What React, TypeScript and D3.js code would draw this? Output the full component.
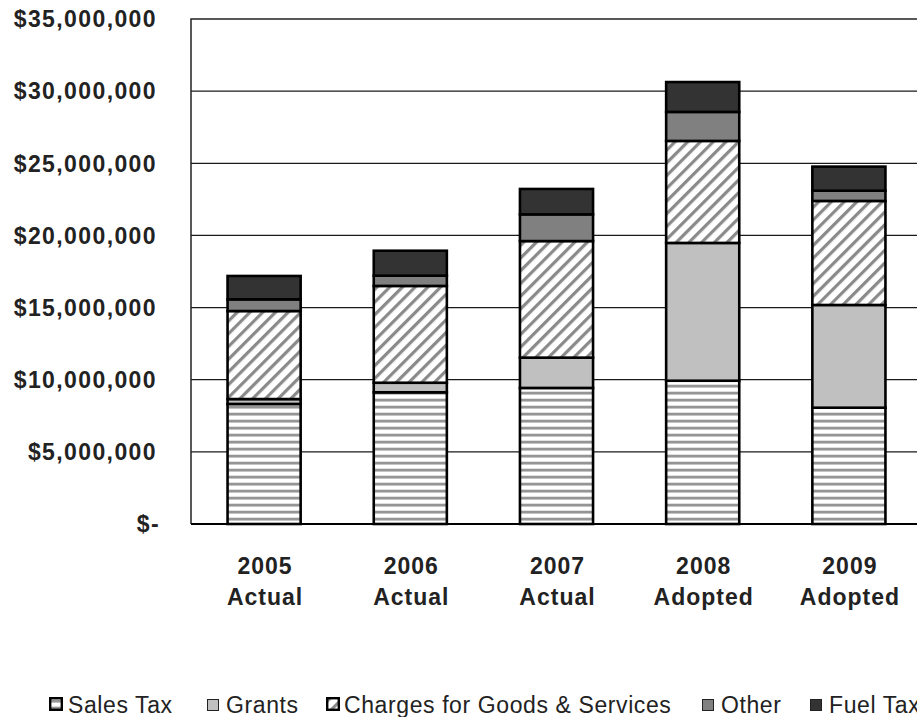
import React, { useEffect, useRef } from "react";
import * as d3 from "d3";

const categories = ["2005 Actual", "2006 Actual", "2007 Actual", "2008 Adopted", "2009 Adopted"];
const categoryLines = [["2005", "Actual"], ["2006", "Actual"], ["2007", "Actual"], ["2008", "Adopted"], ["2009", "Adopted"]];
const seriesNames = ["Sales Tax", "Grants", "Charges for Goods & Services", "Other", "Fuel Tax"];
const salesTax = [8.32e6, 9.13e6, 9.43e6, 9.93e6, 8.06e6];
const grants = [0.34e6, 0.66e6, 2.1e6, 9.55e6, 7.12e6];
const charges = [6.1e6, 6.71e6, 8.08e6, 7.07e6, 7.21e6];
const other = [0.81e6, 0.71e6, 1.85e6, 2.01e6, 0.71e6];
const fuelTax = [1.62e6, 1.73e6, 1.76e6, 2.07e6, 1.67e6];
const yTicks = [0, 5e6, 10e6, 15e6, 20e6, 25e6, 30e6, 35e6];
const yTickLabels = ["$-", "$5,000,000", "$10,000,000", "$15,000,000", "$20,000,000", "$25,000,000", "$30,000,000", "$35,000,000"];

const W = 917, H = 717;
const FONT = "'Liberation Sans', Arial, sans-serif";

export default function App() {
  const ref = useRef<SVGSVGElement>(null);
  useEffect(() => {
    document.body.style.margin = "0";
    const svg = d3.select(ref.current!);
    svg.selectAll("*").remove();

    const fills = ["url(#hstripe)", "#c0c0c0", "url(#diag)", "#808080", "#333333"];
    const defs = svg.append("defs");
    const hs = defs.append("pattern").attr("id", "hstripe").attr("patternUnits", "userSpaceOnUse").attr("width", 8).attr("height", 7);
    hs.append("rect").attr("width", 8).attr("height", 7).attr("fill", "#fff");
    hs.append("rect").attr("y", 0).attr("width", 8).attr("height", 2).attr("fill", "#959595");
    hs.append("rect").attr("y", 2).attr("width", 8).attr("height", 1).attr("fill", "#c4c4c4");
    hs.append("rect").attr("y", 6).attr("width", 8).attr("height", 1).attr("fill", "#e0e0e0");
    const dg = defs.append("pattern").attr("id", "diag").attr("patternUnits", "userSpaceOnUse").attr("width", 9).attr("height", 9).attr("patternTransform", "rotate(45)");
    dg.append("rect").attr("width", 9).attr("height", 9).attr("fill", "#fff");
    dg.append("rect").attr("x", 0).attr("width", 3.2).attr("height", 9).attr("fill", "#8a8a8a");

    const x = d3.scaleBand<string>().domain(categories).range([191, 922]).paddingInner(0.5).paddingOuter(0.25);
    const y = d3.scaleLinear().domain([0, 35e6]).range([524, 19]);

    const table = categories.map((c, i) => ({
      cat: c,
      "Sales Tax": salesTax[i],
      Grants: grants[i],
      "Charges for Goods & Services": charges[i],
      Other: other[i],
      "Fuel Tax": fuelTax[i],
    }));
    const stacked = d3.stack<any>().keys(seriesNames)(table);

    // gridlines
    svg.append("g").selectAll("line").data(yTicks.slice(1, -1)).join("line")
      .attr("x1", 191).attr("x2", 922).attr("y1", (d) => y(d)).attr("y2", (d) => y(d))
      .attr("stroke", "#1a1a1a").attr("stroke-width", 1.2);
    // plot border (top & left)
    svg.append("path").attr("d", `M191,${y(0)}V${y(35e6)}H922`).attr("fill", "none").attr("stroke", "#222").attr("stroke-width", 1.5);

    // bars
    stacked.forEach((s, si) => {
      svg.append("g").selectAll("rect").data(s).join("rect")
        .attr("x", (d: any) => x(d.data.cat)!)
        .attr("width", x.bandwidth())
        .attr("y", (d: any) => y(d[1]))
        .attr("height", (d: any) => y(d[0]) - y(d[1]))
        .attr("fill", fills[si])
        .attr("stroke", "#000").attr("stroke-width", 2.6);
    });

    // baseline axis
    svg.append("line").attr("x1", 191).attr("x2", 922).attr("y1", y(0)).attr("y2", y(0)).attr("stroke", "#000").attr("stroke-width", 2);

    // y labels
    svg.append("g").selectAll("text").data(yTicks).join("text")
      .attr("x", (d) => (d === 0 ? 160 : 157)).attr("y", (d) => y(d)).attr("dy", "0.36em")
      .attr("text-anchor", "end").attr("font-family", FONT).attr("font-weight", "bold").attr("font-size", 23)
      .attr("letter-spacing", 1.4).attr("fill", "#222")
      .text((d, i) => yTickLabels[i]);

    // x labels
    const xl = svg.append("g").selectAll("text").data(categories).join("text")
      .attr("text-anchor", "middle").attr("font-family", FONT).attr("font-weight", "bold").attr("font-size", 23)
      .attr("letter-spacing", 1).attr("fill", "#222");
    xl.each(function (c, i) {
      const t = d3.select(this);
      const cx = x(c)! + x.bandwidth() / 2 + 1;
      categoryLines[i].forEach((ln, li) => {
        t.append("tspan").attr("x", cx).attr("y", 574 + li * 31).text(ln);
      });
    });

    // legend
    const legendX = [49, 207, 326, 702, 810];
    const thick = [true, false, true, false, false];
    const lg = svg.append("g").selectAll("g").data(seriesNames).join("g")
      .attr("transform", (d, i) => `translate(${legendX[i]},0)`);
    lg.append("rect").attr("x", (d, i) => (thick[i] ? 1.2 : 0.5)).attr("y", (d, i) => (thick[i] ? 698.2 : 699.5))
      .attr("width", (d, i) => (thick[i] ? 11.6 : 11)).attr("height", (d, i) => (thick[i] ? 11.6 : 11))
      .attr("fill", (d, i) => fills[i]).attr("stroke", (d, i) => (thick[i] ? "#000" : "#222"))
      .attr("stroke-width", (d, i) => (thick[i] ? 2.4 : 1));
    lg.append("text").attr("x", (d, i) => (i === 2 ? 18 : 19)).attr("y", 712.5)
      .attr("font-family", FONT).attr("font-size", 23).attr("letter-spacing", 0.6).attr("fill", "#222").text((d) => d);
  }, []);
  return <svg ref={ref} width={W} height={H} style={{ display: "block" }} />;
}
